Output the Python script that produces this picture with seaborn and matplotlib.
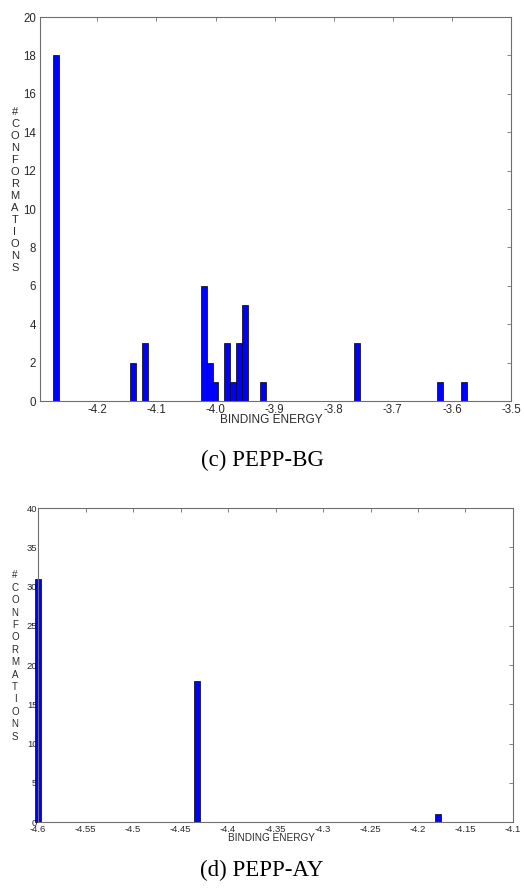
"""Binding energy histograms for PEPP-BG and PEPP-AY docking runs."""

import matplotlib

matplotlib.use("Agg")
import matplotlib.pyplot as plt
import pandas as pd
import seaborn as sns


# (c) PEPP-BG: bin centre energy and number of conformations
BG_ENERGY = [-4.27, -4.14, -4.12, -4.02, -4.01, -4.00, -3.98, -3.97, -3.96, -3.95, -3.92, -3.76, -3.62, -3.58]
BG_COUNT = [18, 2, 3, 6, 2, 1, 3, 1, 3, 5, 1, 3, 1, 1]
BG_XTICKS = [-4.2, -4.1, -4.0, -3.9, -3.8, -3.7, -3.6, -3.5]
BG_XTICKLABELS = ["-4.2", "-4.1", "-4.0", "-3.9", "-3.8", "-3.7", "-3.6", "-3.5"]
BG_YTICKS = [0, 2, 4, 6, 8, 10, 12, 14, 16, 18, 20]

# (d) PEPP-AY
AY_ENERGY = [-4.60, -4.43, -4.18]
AY_COUNT = [31, 18, 1]
AY_XTICKS = [-4.6, -4.55, -4.5, -4.45, -4.4, -4.35, -4.3, -4.25, -4.2, -4.15, -4.1]
AY_XTICKLABELS = ["-4.6", "-4.55", "-4.5", "-4.45", "-4.4", "-4.35", "-4.3", "-4.25", "-4.2", "-4.15", "-4.1"]
AY_YTICKS = [0, 5, 10, 15, 20, 25, 30, 35, 40]

YLABEL = "#CONFORMATIONS"
XLABEL = "BINDING ENERGY"
TITLES = ["(c) PEPP-BG", "(d) PEPP-AY"]

BAR_COLOR = "#0000FF"
AXIS_COLOR = "#6e6e6e"
TEXT_COLOR = "#2a2a2a"

W, H = 524, 888


def draw_hist(ax, energy, count, binwidth, binrange):
    df = pd.DataFrame({"energy": energy, "count": count})
    sns.histplot(
        data=df,
        x="energy",
        weights="count",
        binwidth=binwidth,
        binrange=binrange,
        color=BAR_COLOR,
        edgecolor="black",
        linewidth=0.5,
        alpha=1,
        ax=ax,
    )
    for patch in list(ax.patches):
        if patch.get_height() == 0:
            patch.remove()
        else:
            patch.set_clip_on(False)


def style_axes(ax, xticks, xticklabels, yticks, xlim, ylim, fontsize, ypad):
    ax.set_xlim(*xlim)
    ax.set_ylim(*ylim)
    ax.set_xticks(xticks)
    ax.set_xticklabels(xticklabels)
    ax.set_yticks(yticks)
    ax.set_xlabel("")
    ax.set_ylabel("")
    ax.grid(False)
    for spine in ax.spines.values():
        spine.set_visible(True)
        spine.set_color(AXIS_COLOR)
        spine.set_linewidth(0.8)
    ax.tick_params(
        direction="in", length=3, width=0.6, color=AXIS_COLOR,
        top=True, right=True, labelsize=fontsize, labelcolor=TEXT_COLOR,
    )
    ax.tick_params(axis="x", pad=2)
    ax.tick_params(axis="y", pad=ypad)


def main():
    sns.set_theme(style="white")
    plt.rcParams["font.family"] = ["Liberation Sans", "DejaVu Sans"]
    plt.rcParams["axes.unicode_minus"] = False

    fig = plt.figure(figsize=(W / 100, H / 100), dpi=100)

    # top panel: PEPP-BG
    ax_bg = fig.add_axes([40 / W, 1 - 401 / H, 471 / W, 384 / H])
    draw_hist(ax_bg, BG_ENERGY, BG_COUNT, 0.01, (-4.275, -3.575))
    style_axes(ax_bg, BG_XTICKS, BG_XTICKLABELS, BG_YTICKS, (-4.297, -3.5), (0, 20), 8.3, 3)
    fig.text(0.518, 1 - 420 / H, XLABEL, ha="center", va="center", fontsize=8.5, color=TEXT_COLOR)
    fig.text(15 / W, 1 - 190 / H, "\n".join(YLABEL), ha="center", va="center",
             fontsize=8, linespacing=1.25, color=TEXT_COLOR)
    fig.text(0.5, 1 - 460 / H, TITLES[0], ha="center", va="center", fontsize=16.5,
             family=["Liberation Serif", "DejaVu Serif"], color="black")

    # bottom panel: PEPP-AY
    ax_ay = fig.add_axes([38 / W, 1 - 822 / H, 475 / W, 314 / H])
    draw_hist(ax_ay, AY_ENERGY, AY_COUNT, 0.0062, (-4.6031, -4.17))
    style_axes(ax_ay, AY_XTICKS, AY_XTICKLABELS, AY_YTICKS, (-4.6, -4.1), (0, 40), 6.8, 0.5)
    fig.text(0.518, 1 - 838 / H, XLABEL, ha="center", va="center", fontsize=7.2, color=TEXT_COLOR)
    fig.text(15 / W, 1 - 656 / H, "\n".join(YLABEL), ha="center", va="center",
             fontsize=7, linespacing=1.3, color=TEXT_COLOR)
    fig.text(0.5, 1 - 870 / H, TITLES[1], ha="center", va="center", fontsize=16.5,
             family=["Liberation Serif", "DejaVu Serif"], color="black")

    fig.savefig("out.png", dpi=100, facecolor="white")
    plt.close(fig)


if __name__ == "__main__":
    main()
